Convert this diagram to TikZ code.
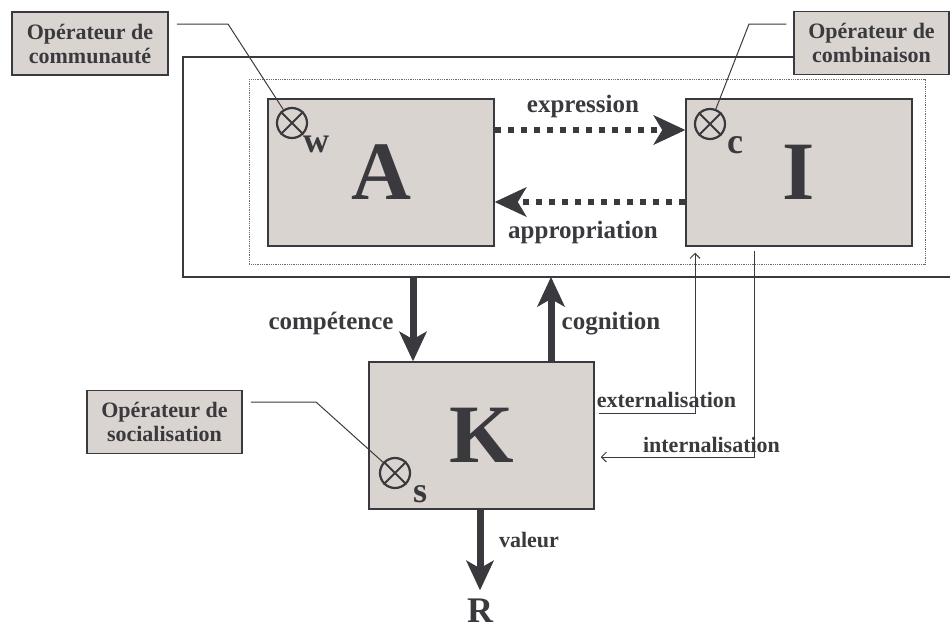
\documentclass[tikz,border=0pt]{standalone}
\usepackage{fontspec}
\setmainfont{Liberation Serif}
\usetikzlibrary{arrows.meta,calc}
\definecolor{ink}{HTML}{3A393D}
\definecolor{boxfill}{HTML}{DAD4D1}
\tikzset{
  opbox/.style={draw=ink, fill=boxfill, line width=1.5pt, minimum width=156pt, minimum height=63pt,
    inner sep=0pt, align=center, text=ink, font=\fontsize{22}{24}\selectfont\bfseries},
  bigbox/.style={draw=ink, fill=boxfill, line width=1.5pt, minimum width=226pt, minimum height=147pt,
    inner sep=0pt, text=ink, font=\fontsize{83}{83}\selectfont\bfseries},
  otimes/.style={circle, draw=ink, line width=2.2pt, minimum size=30pt, inner sep=0pt},
  sub/.style={anchor=base, inner sep=0pt, text=ink, font=\fontsize{36}{36}\selectfont\bfseries},
  lbl/.style={anchor=base, inner sep=0pt, text=ink, font=\fontsize{25}{25}\selectfont\bfseries},
  smalllbl/.style={anchor=base, inner sep=0pt, text=ink, font=\fontsize{22}{22}\selectfont\bfseries},
  leader/.style={draw=ink, line width=1pt},
  dotarrow/.style={draw=ink, line width=6pt, dash pattern=on 6pt off 7pt,
    -{Stealth[length=32pt, width=30pt, inset=9pt, line width=1pt]}},
  bigarrow/.style={draw=ink, line width=7pt,
    -{Stealth[length=30pt, width=28pt, inset=8pt, line width=1pt]}},
  flow/.style={draw=ink, line width=1pt, -{Straight Barb[length=5pt, width=10pt]}}
}
\begin{document}
\begin{tikzpicture}[x=1pt, y=-1pt]
  \useasboundingbox (0,0) rectangle (950,630);
  % frames
  \draw[ink, line width=1.5pt] (960,57) -| (183,277) -- (960,277);
  \draw[ink!75, line width=0.8pt, densely dotted] (249,79) rectangle (925,264);
  % main boxes
  \node[bigbox] (A) at (381,172.5) {A};
  \node[bigbox] (I) at (799,172.5) {I};
  \node[bigbox, minimum width=225pt] (K) at (481.5,435.5) {K};
  % operator boxes
  \node[opbox] (comm) at (90,43.5) {Opérateur de\\communauté};
  \node[opbox, minimum width=155pt] (comb) at (871.5,43) {Opérateur de\\combinaison};
  \node[opbox, minimum width=155pt] (soc) at (164.5,422) {Opérateur de\\socialisation};
  % operators
  \node[otimes] (ow) at (292,123) {};
  \node[otimes] (oc) at (710,124) {};
  \node[otimes] (os) at (395,473) {};
  \foreach \o in {ow,oc,os}
    \draw[ink, line width=2pt] (\o.45) -- (\o.225) (\o.135) -- (\o.315);
  \node[sub] (wsub) at (316,152) {w};
  \node[sub] (csub) at (735,153) {c};
  \node[sub] (ssub) at (420,502) {s};
  % leaders
  \coordinate (wk) at (228,24);
  \coordinate (ck) at (749,24);
  \coordinate (sk) at (316,402);
  \draw[leader, shorten <=8pt] (comm.east |- wk) -- (wk) -- (ow);
  \draw[leader, shorten <=7pt] (comb.west |- ck) -- (ck) -- (oc);
  \draw[leader, shorten <=8pt] (soc.east |- sk) -- (sk) -- (os);
  % expression / appropriation
  \draw[dotarrow] ([yshift=42.5pt]A.east) -- ([yshift=42.5pt]I.west);
  \draw[dotarrow] ([yshift=-29.5pt]I.west) -- ([yshift=-29.5pt]A.east);
  \node[lbl] (expr) at (583,112) {expression};
  \node[lbl] (appr) at (583,238) {appropriation};
  % competence / cognition
  \coordinate (comp) at (413,277);
  \coordinate (cogn) at (551,277);
  \draw[bigarrow] (comp) -- (comp |- K.north);
  \draw[bigarrow] (cogn |- K.north) -- (cogn);
  \node[lbl] (compl) at (331,329) {compétence};
  \node[lbl] (cognl) at (611,329) {cognition};
  % valeur
  \node[anchor=base, inner sep=0pt, text=ink, font=\fontsize{36}{36}\selectfont\bfseries] (R) at (480,622) {R};
  \draw[bigarrow] (K.south -| R) -- ([yshift=8pt]R.north);
  \node[smalllbl] (val) at (529,547) {valeur};
  % externalisation / internalisation
  \coordinate (ex) at (695,413);
  \coordinate (in) at (754,457);
  \draw[flow, shorten <=4pt] (K.east |- ex) -- (ex) -- ($(ex |- I.south)+(0,6)$);
  \draw[flow] ($(in |- I.south)+(0,4)$) -- (in) -- ($(K.east |- in)+(6,0)$);
  \node[smalllbl] (extl) at (666.5,407) {externalisation};
  \node[smalllbl] (intl) at (711.5,452) {internalisation};
\end{tikzpicture}
\end{document}
